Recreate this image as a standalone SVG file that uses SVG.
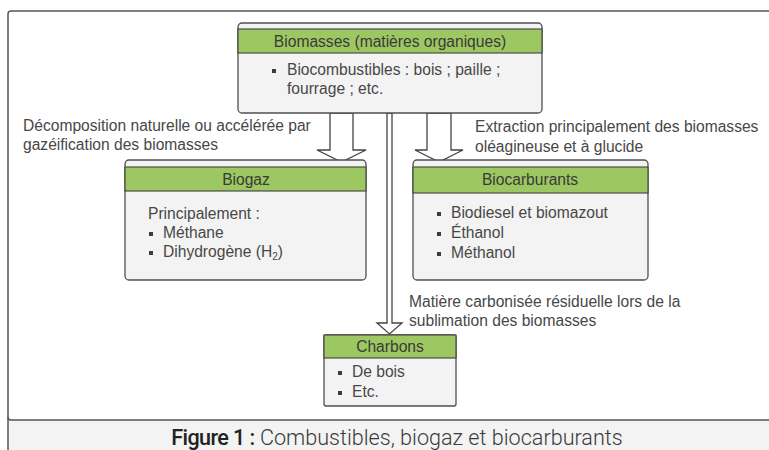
<svg xmlns="http://www.w3.org/2000/svg" width="769" height="450" viewBox="0 0 769 450">
<style>
.box{fill:#f3f3f3;stroke:#505050;stroke-width:1.3}
.hdr{fill:#9dc761;stroke:#404040;stroke-width:1.1}
.t{font-family:"Liberation Sans",Arial,sans-serif;font-size:15.6px;fill:#474747}
.h{font-family:"Liberation Sans",Arial,sans-serif;font-size:15.6px;fill:#3a3a3a;text-anchor:middle}
.b{fill:#3c3c3c}
.arr{fill:#fff;stroke:#444;stroke-width:1.3;stroke-linejoin:miter}
.frame{fill:none;stroke:#555;stroke-width:1.5}
</style>
<rect x="0" y="0" width="769" height="450" fill="#fff"/>
<rect x="8" y="420" width="762" height="31" fill="#f3f3f3"/>
<path class="frame" d="M8,451 V14 Q8,11 11,11 H770"/>
<path class="frame" d="M8,417 Q8,420 11,420 H770"/>
<text x="397" y="445" text-anchor="middle" font-family="Roboto,'Liberation Sans',sans-serif" font-size="21.6" fill="#3a3a3a"><tspan font-weight="500" fill="#222" letter-spacing="-0.6">Figure 1 :</tspan><tspan font-weight="300"> Combustibles, biogaz et biocarburants</tspan></text>

<g id="connectors">
<polygon class="arr" points="330,113 330,150 317,150 341.5,162 366,150 353,150 353,113"/>
<polygon class="arr" points="427,113 427,150 415,150 439,162 463,150 451,150 451,113"/>
<polygon class="arr" points="387,113 387,323 377,323 389.5,334 402,323 392,323 392,113"/>
<text class="t" x="23" y="131">Décomposition naturelle ou accélérée par</text>
<text class="t" x="23" y="150">gazéification des biomasses</text>
<text class="t" x="475" y="132">Extraction principalement des biomasses</text>
<text class="t" x="475" y="152">oléagineuse et à glucide</text>
<text class="t" x="409" y="307">Matière carbonisée résiduelle lors de la</text>
<text class="t" x="409" y="326">sublimation des biomasses</text>
</g>

<g id="biomasses">
<rect class="box" x="238" y="23" width="304" height="90" rx="4"/>
<rect class="hdr" x="238" y="29" width="304" height="24"/>
<text class="h" x="390" y="47">Biomasses (matières organiques)</text>
<rect class="b" x="272" y="69" width="4" height="4"/>
<text class="t" x="287" y="75">Biocombustibles : bois ; paille ;</text>
<text class="t" x="287" y="94">fourrage ; etc.</text>
</g>

<g id="biogaz">
<rect class="box" x="125" y="160" width="241" height="120" rx="4"/>
<rect class="hdr" x="125" y="167" width="241" height="24"/>
<text class="h" x="246" y="185">Biogaz</text>
<text class="t" x="148" y="219">Principalement :</text>
<rect class="b" x="149" y="232" width="4" height="4"/>
<text class="t" x="163" y="238">Méthane</text>
<rect class="b" x="149" y="251" width="4" height="4"/>
<text class="t" x="163" y="257">Dihydrogène (H<tspan font-size="10" dy="3">2</tspan><tspan dy="-3">)</tspan></text>
</g>

<g id="biocarburants">
<rect class="box" x="413" y="160" width="235" height="120" rx="4"/>
<rect class="hdr" x="413" y="167" width="235" height="26"/>
<text class="h" x="530" y="185">Biocarburants</text>
<rect class="b" x="437" y="212" width="4" height="4"/>
<text class="t" x="451" y="218">Biodiesel et biomazout</text>
<rect class="b" x="437" y="232" width="4" height="4"/>
<text class="t" x="451" y="238">Éthanol</text>
<rect class="b" x="437" y="252" width="4" height="4"/>
<text class="t" x="451" y="258">Méthanol</text>
</g>

<g id="charbons">
<rect class="box" x="324" y="335" width="132" height="71" rx="2"/>
<rect class="hdr" x="324" y="335" width="132" height="23"/>
<text class="h" x="390" y="352">Charbons</text>
<rect class="b" x="338" y="371" width="4" height="4"/>
<text class="t" x="352" y="377">De bois</text>
<rect class="b" x="338" y="391" width="4" height="4"/>
<text class="t" x="352" y="397">Etc.</text>
</g>
</svg>
